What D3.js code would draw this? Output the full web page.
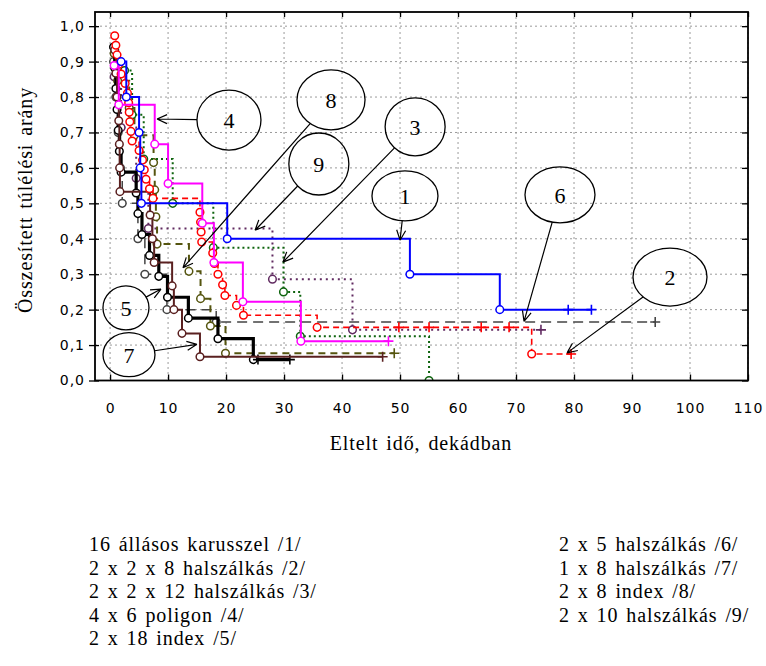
<!DOCTYPE html>
<html>
<head>
<meta charset="utf-8">
<script src="https://cdn.jsdelivr.net/npm/d3@7/dist/d3.min.js"></script>
<style>
  body { margin: 0; background: #fff; }
  .tick-label { font-family: "DejaVu Sans", sans-serif; font-size: 14px; letter-spacing: 1px; fill: #000; }
  .serif { font-family: "Liberation Serif", "Times New Roman", serif; font-size: 20px; letter-spacing: 0.9px; word-spacing: 2px; fill: #000; }
  .callout { font-family: "Liberation Serif", serif; font-size: 22px; fill: #000; }
</style>
</head>
<body>
<div id="chart-area"></div>
<script>
// axis ticks
const xTicks = [0, 10, 20, 30, 40, 50, 60, 70, 80, 90, 100, 110];
const yTicks = [0, 0.1, 0.2, 0.3, 0.4, 0.5, 0.6, 0.7, 0.8, 0.9, 1.0];

// Kaplan-Meier steps: [time, survival after event]; censored times
const events1 = [[1.9, 0.9], [2.8, 0.8], [5.0, 0.7], [5.2, 0.6], [5.4, 0.5], [20.2, 0.4], [51.7, 0.3], [67.2, 0.2]];
const censored1 = [79, 83];

const events2 = [[0.8, 0.973], [1.0, 0.946], [1.2, 0.919], [1.5, 0.892], [1.9, 0.865], [2.6, 0.838], [3.0, 0.811],
  [3.2, 0.784], [3.3, 0.757], [3.4, 0.73], [3.6, 0.703], [3.8, 0.676], [5.0, 0.649], [5.6, 0.622], [5.9, 0.595],
  [6.2, 0.568], [6.8, 0.541], [7.4, 0.514], [15.5, 0.475], [15.6, 0.447], [15.7, 0.419], [15.8, 0.391],
  [17.7, 0.36], [18.0, 0.33], [18.6, 0.3], [19.4, 0.27], [19.8, 0.24], [21.8, 0.212], [23.0, 0.184],
  [35.7, 0.15], [72.7, 0.075]];
const censored2 = [49.8, 55, 64, 68.8, 79.5];

const events3 = [[2.5, 0.875], [3.8, 0.75], [5.8, 0.625], [10.8, 0.5], [17.8, 0.375], [29.9, 0.25], [32.8, 0.125], [55, 0]];
const censored3 = [];

const events4 = [[0.7, 0.889], [1.5, 0.778], [7.7, 0.667], [10.0, 0.556], [15.9, 0.444], [17.9, 0.333], [22.9, 0.222], [32.9, 0.111]];
const censored4 = [48];

const events5 = [[0.6, 0.941], [0.8, 0.882], [1.0, 0.824], [1.2, 0.765], [1.4, 0.706], [1.6, 0.647], [1.9, 0.588],
  [4.5, 0.529], [4.8, 0.471], [5.5, 0.412], [6.8, 0.353], [8.4, 0.294], [9.9, 0.235], [13.5, 0.176],
  [18.6, 0.118], [24.7, 0.059]];
const censored5 = [25.5, 31];

const events6 = [[0.6, 0.9], [1.0, 0.8], [1.4, 0.7], [1.8, 0.6], [2.1, 0.5], [4.8, 0.4], [6.0, 0.3], [9.8, 0.2], [18.3, 0.165]];
const censored6 = [94];

const events7 = [[0.8, 0.933], [1.0, 0.867], [1.2, 0.8], [1.5, 0.733], [1.6, 0.667], [1.65, 0.6], [1.7, 0.533],
  [6.9, 0.467], [7.3, 0.4], [7.6, 0.333], [10.7, 0.267], [11.0, 0.2], [12.4, 0.133], [15.5, 0.067]];
const censored7 = [47];

const events8 = [[0.7, 0.923], [1.3, 0.846], [3.3, 0.769], [4.2, 0.692], [7.5, 0.615], [7.7, 0.538], [7.9, 0.462],
  [8.1, 0.385], [13.6, 0.308], [15.6, 0.231], [17.3, 0.154], [19.9, 0.077]];
const censored8 = [49];

const events9 = [[0.7, 0.857], [1.9, 0.714], [4.5, 0.571], [6.6, 0.429], [28.0, 0.286], [41.8, 0.143]];
const censored9 = [74.3];

// legend text
const legendLeft = ["16 állásos karusszel /1/", "2 x 2 x 8 halszálkás /2/", "2 x 2 x 12 halszálkás /3/", "4 x 6 poligon /4/", "2 x 18 index /5/"];
const legendRight = ["2 x 5 halszálkás /6/", "1 x 8 halszálkás /7/", "2 x 8 index /8/", "2 x 10 halszálkás /9/"];

// callouts: label, ellipse centre and arrow tip (data coords)
const calloutLabels = ["1", "2", "3", "4", "5", "6", "7", "8", "9"];
const calloutCenters = [[50.85, 0.521], [96.55, 0.292], [52.6, 0.716], [20.5, 0.735], [2.74, 0.205], [77.58, 0.524], [3.26, 0.073], [38.1, 0.792], [36.0, 0.611]];
const calloutTips = [[50.0, 0.396], [78.8, 0.078], [29.8, 0.334], [8.09, 0.738], [8.78, 0.258], [71.38, 0.167], [14.98, 0.102], [12.57, 0.318], [25.0, 0.424]];

// ---- layout / styles ----
const W = 766, H = 666;
const plot = { left: 95, right: 748, top: 12, bottom: 380.5 };
const calloutRadii = [[33, 25], [37, 29], [30, 29], [32, 30], [23, 22], [35, 28], [26, 22], [34, 30], [30, 31]];
const seriesStyle = {
  1: { color: "#0000ff", width: 2, dash: null },
  2: { color: "#ff0000", width: 1.6, dash: "6,4" },
  3: { color: "#0e640e", width: 2, dash: "2,3" },
  4: { color: "#ff00ff", width: 2, dash: null },
  5: { color: "#000000", width: 3.2, dash: null },
  6: { color: "#444444", width: 1.5, dash: "10,6" },
  7: { color: "#5a2020", width: 2, dash: null },
  8: { color: "#55550f", width: 2, dash: "7,5" },
  9: { color: "#602a60", width: 2, dash: "2,4" }
};
const drawOrder = [6, 9, 8, 5, 7, 3, 2, 4, 1];

const series = {
  1: { events: events1, censored: censored1 },
  2: { events: events2, censored: censored2 },
  3: { events: events3, censored: censored3 },
  4: { events: events4, censored: censored4 },
  5: { events: events5, censored: censored5 },
  6: { events: events6, censored: censored6 },
  7: { events: events7, censored: censored7 },
  8: { events: events8, censored: censored8 },
  9: { events: events9, censored: censored9 }
};

const x = d3.scaleLinear().domain([-2.6, 110]).range([plot.left, plot.right]);
const y = d3.scaleLinear().domain([0, 1.04]).range([plot.bottom, plot.top]);
const fmt = d => d3.format(".1f")(d).replace(".", ",");

const svg = d3.select("#chart-area").append("svg")
  .attr("width", W).attr("height", H);

svg.append("defs").append("clipPath").attr("id", "plot-clip")
  .append("rect")
  .attr("x", plot.left).attr("y", plot.top)
  .attr("width", plot.right - plot.left).attr("height", plot.bottom - plot.top);

// grid
const grid = svg.append("g").attr("class", "grid");
grid.selectAll(".gx").data(xTicks).join("line")
  .attr("x1", d => x(d)).attr("x2", d => x(d))
  .attr("y1", plot.top).attr("y2", plot.bottom)
  .attr("stroke", "#9a9a9a").attr("stroke-dasharray", "2,3");
grid.selectAll(".gy").data(yTicks).join("line")
  .attr("x1", plot.left).attr("x2", plot.right)
  .attr("y1", d => y(d)).attr("y2", d => y(d))
  .attr("stroke", "#9a9a9a").attr("stroke-dasharray", "2,3");

// series
const levelAt = (events, t) => {
  let s = 1;
  events.forEach(e => { if (e[0] <= t) s = e[1]; });
  return s;
};

const line = d3.line().x(d => x(d[0])).y(d => y(d[1])).curve(d3.curveStepAfter);
const g = svg.append("g").attr("clip-path", "url(#plot-clip)");

drawOrder.forEach(id => {
  const { events, censored } = series[id];
  const st = seriesStyle[id];
  const last = events[events.length - 1];
  const end = Math.max(last[0], d3.max(censored) || 0);
  // the curve starts at its first event, as in the original plot
  const pts = [...events, [end, last[1]]];
  const sg = g.append("g").attr("class", "series-" + id);

  sg.append("path")
    .attr("d", line(pts))
    .attr("fill", "none")
    .attr("stroke", st.color)
    .attr("stroke-width", st.width)
    .attr("stroke-dasharray", st.dash);

  sg.selectAll("circle").data(events).join("circle")
    .attr("cx", d => x(d[0])).attr("cy", d => y(d[1]))
    .attr("r", 3.8)
    .attr("fill", "#fff")
    .attr("stroke", st.color).attr("stroke-width", 1.5);

  sg.selectAll(".cens").data(censored).join("path")
    .attr("class", "cens")
    .attr("d", t => {
      const cx = x(t), cy = y(levelAt(events, t));
      return `M${cx - 5},${cy}H${cx + 5}M${cx},${cy - 5}V${cy + 5}`;
    })
    .attr("stroke", st.color).attr("stroke-width", 1.6);
});

// frame
svg.append("rect")
  .attr("x", plot.left).attr("y", plot.top)
  .attr("width", plot.right - plot.left).attr("height", plot.bottom - plot.top)
  .attr("fill", "none").attr("stroke", "#000").attr("stroke-width", 1.8);

// axes
const yAxis = svg.append("g")
  .attr("transform", `translate(${plot.left},0)`)
  .call(d3.axisLeft(y).tickValues(yTicks).tickFormat(fmt).tickSizeInner(6).tickSizeOuter(0).tickPadding(4));
svg.append("g")
  .attr("transform", `translate(${plot.left},0)`)
  .call(d3.axisRight(y).tickValues(yTicks).tickFormat("").tickSizeInner(4).tickSizeOuter(0));
svg.append("g")
  .attr("transform", `translate(${plot.right},0)`)
  .call(d3.axisLeft(y).tickValues(yTicks).tickFormat("").tickSizeInner(6).tickSizeOuter(0));
const xAxis = svg.append("g")
  .attr("transform", `translate(0,${plot.bottom})`)
  .call(d3.axisBottom(x).tickValues(xTicks).tickSizeInner(-6).tickSizeOuter(0).tickPadding(23));
svg.append("g")
  .attr("transform", `translate(0,${plot.top})`)
  .call(d3.axisTop(x).tickValues(xTicks).tickFormat("").tickSizeInner(-5).tickSizeOuter(0));

svg.selectAll(".domain").remove();
svg.selectAll(".tick line").attr("stroke", "#000").attr("stroke-width", 1.3);
[yAxis, xAxis].forEach(a => a.selectAll("text").attr("class", "tick-label").attr("font-family", null).attr("font-size", null));

// axis titles
svg.append("text").attr("class", "serif")
  .attr("x", 421).attr("y", 450).attr("text-anchor", "middle")
  .text("Eltelt idő, dekádban");
svg.append("text").attr("class", "serif")
  .attr("transform", "translate(32,200) rotate(-90)")
  .attr("text-anchor", "middle")
  .text("Összesített túlélési arány");

// callouts
const cg = svg.append("g").attr("class", "callouts");
calloutLabels.forEach((lab, i) => {
  const cx = x(calloutCenters[i][0]), cy = y(calloutCenters[i][1]);
  const tx = x(calloutTips[i][0]), ty = y(calloutTips[i][1]);
  const [rx, ry] = calloutRadii[i];
  const dx = tx - cx, dy = ty - cy;
  const t = 1 / Math.sqrt((dx / rx) ** 2 + (dy / ry) ** 2);
  const sx = cx + dx * t, sy = cy + dy * t;

  cg.append("ellipse")
    .attr("cx", cx).attr("cy", cy).attr("rx", rx).attr("ry", ry)
    .attr("fill", "none").attr("stroke", "#000").attr("stroke-width", 1.3);
  cg.append("text").attr("class", "callout")
    .attr("x", cx).attr("y", cy + 8).attr("text-anchor", "middle")
    .text(lab);

  const ang = Math.atan2(ty - sy, tx - sx);
  const len = 11, spread = 0.42;
  const head = [ang + Math.PI - spread, ang + Math.PI + spread]
    .map(a => `M${tx},${ty}L${tx + len * Math.cos(a)},${ty + len * Math.sin(a)}`).join("");
  cg.append("path")
    .attr("d", `M${sx},${sy}L${tx},${ty}` + head)
    .attr("fill", "none").attr("stroke", "#000").attr("stroke-width", 1.2);
});

// legend
const lg = svg.append("g").attr("class", "legend");
lg.selectAll(".l").data(legendLeft).join("text")
  .attr("class", "serif")
  .attr("x", 89).attr("y", (d, i) => 551 + i * 23.5)
  .text(d => d);
lg.selectAll(".r").data(legendRight).join("text")
  .attr("class", "serif")
  .attr("x", 559).attr("y", (d, i) => 551 + i * 23.5)
  .text(d => d);
</script>
</body>
</html>
